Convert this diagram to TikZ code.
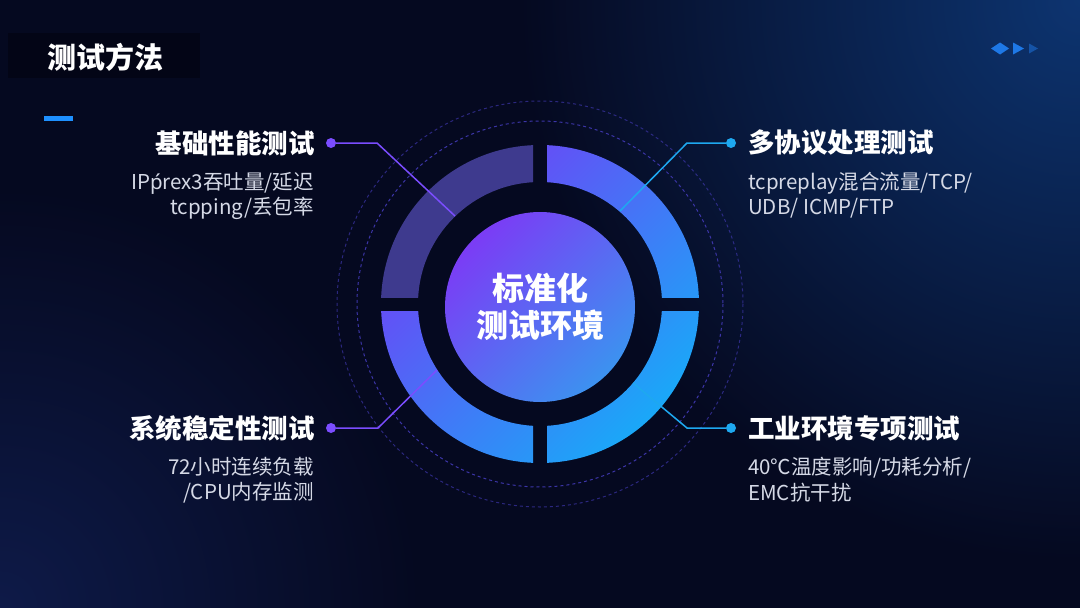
\documentclass[tikz,border=0pt]{standalone}
\usepackage{fontspec}
\setmainfont{Noto Sans CJK SC}
\newfontfamily\latinx{Noto Sans}
\usetikzlibrary{positioning}
\definecolor{bgdark}{HTML}{050920}
\definecolor{glowblue}{HTML}{0D3470}
\definecolor{glowdim}{HTML}{0E1A48}
\definecolor{titlebox}{HTML}{030516}
\definecolor{accentblue}{HTML}{1E90FF}
\definecolor{iconblue}{HTML}{1E78E6}
\definecolor{ringpurple}{HTML}{7040F5}
\definecolor{ringblue}{HTML}{1AA8F8}
\definecolor{ringdull}{HTML}{3E3A8E}
\definecolor{corepurple}{HTML}{7B3CF5}
\definecolor{coreblue}{HTML}{3C92F0}
\definecolor{dashpurple}{HTML}{3C35A8}
\definecolor{linkpurple}{HTML}{7B4DFF}
\definecolor{linkblue}{HTML}{1EA8F0}
\definecolor{subgray}{HTML}{D5D9E6}

\begin{document}
\begin{tikzpicture}[x=1pt, y=-1pt,
  head/.style={text=white, inner sep=0pt, font=\bfseries\fontsize{26.5}{30}\selectfont},
  subtext/.style={text=subgray, inner sep=0pt, font=\fontsize{20.5}{25.5}\selectfont},
  dotl/.style={circle, fill=linkpurple, inner sep=0pt, minimum size=10pt},
  dotr/.style={circle, fill=linkblue, inner sep=0pt, minimum size=10pt},
  linkl/.style={draw=linkpurple, line width=1.5pt},
  linkr/.style={draw=linkblue, line width=1.5pt},
  ringfill/.style={even odd rule, top color=ringpurple, bottom color=ringblue, shading angle=45},
  dashring/.style={draw=dashpurple, dashed, line width=1pt}]
  \useasboundingbox (0,0) rectangle (1080,608);

  % background
  \fill[bgdark] (0,0) rectangle (1080,608);
  \begin{scope}
    \clip (0,0) rectangle (1080,608);
    \shade[inner color=glowdim, outer color=bgdark] (0,608) circle (420);
    \shade[inner color=glowblue, outer color=bgdark] (1080,0) circle (560);
  \end{scope}

  % title
  \fill[titlebox] (8,33) rectangle (200,78);
  \node[head, font=\bfseries\fontsize{29}{32}\selectfont] (title) at (105,57) {测试方法};
  \fill[accentblue] (44,116) rectangle (73,121);
  \fill[iconblue] (991,48.5) -- (1000,42.5) -- (1009,48.5) -- (1000,54.5) -- cycle;
  \fill[iconblue] (1013,42.5) -- (1024,48.5) -- (1013,54.5) -- cycle;
  \fill[iconblue, opacity=0.5] (1029,43.5) -- (1038,48.5) -- (1029,53.5) -- cycle;

  % dashed rings
  \draw[dashring] (540,304) circle (183);
  \draw[dashring, opacity=0.7] (540,304) circle (203);

  % ring quadrants
  \begin{scope}
    \clip (300,50) rectangle (533,297);
    \fill[ringdull, even odd rule] (540,304) circle (159) circle (122);
  \end{scope}
  \begin{scope}
    \clip (547,50) rectangle (780,297);
    \shade[ringfill] (540,304) circle (159) circle (122);
  \end{scope}
  \begin{scope}
    \clip (300,311) rectangle (533,560);
    \shade[ringfill] (540,304) circle (159) circle (122);
  \end{scope}
  \begin{scope}
    \clip (547,311) rectangle (780,560);
    \shade[ringfill] (540,304) circle (159) circle (122);
  \end{scope}

  % core
  \node[circle, minimum size=190pt, inner sep=0pt, top color=corepurple, bottom color=coreblue, shading angle=45,
    text=white, align=center, font=\bfseries\fontsize{32}{37}\selectfont] (core) at (540,307) {标准化\\测试环境};

  % labels
  \node[head, anchor=east] (basic) at (315,143) {基础性能测试};
  \node[subtext, anchor=north east, align=right] (basicsub) at (314,172) {IP{\latinx ṕ}rex3吞吐量/延迟\\tcpping/丢包率};
  \node[head, anchor=west] (proto) at (748,143) {多协议处理测试};
  \node[subtext, anchor=north west, align=left] (protosub) at (748,172) {tcpreplay混合流量/TCP/\\UDB/ ICMP/FTP};
  \node[head, anchor=east] (stable) at (315,428) {系统稳定性测试};
  \node[subtext, anchor=north east, align=right] (stablesub) at (314,457) {72小时连续负载\\/CPU内存监测};
  \node[head, anchor=west] (indus) at (748,428) {工业环境专项测试};
  \node[subtext, anchor=north west, align=left] (indussub) at (748,457) {40℃温度影响/功耗分析/\\EMC抗干扰};

  % connectors
  \node[dotl] (dbasic) at (331,143) {};
  \coordinate (kbasic) at (377,143);
  \coordinate (ebasic) at (455,216);
  \draw[linkl] (dbasic) -- (kbasic) -- (ebasic);
  \node[dotr] (dproto) at (731,143) {};
  \coordinate (kproto) at (687,143);
  \coordinate (eproto) at (620,211);
  \draw[linkr] (dproto) -- (kproto) -- (eproto);
  \node[dotl] (dstable) at (331,428) {};
  \coordinate (kstable) at (378,428);
  \coordinate (estable) at (437,370);
  \draw[linkl] (dstable) -- (kstable) -- (estable);
  \node[dotr] (dindus) at (731,428) {};
  \coordinate (kindus) at (687,428);
  \coordinate (eindus) at (633,383);
  \draw[linkr] (dindus) -- (kindus) -- (eindus);
\end{tikzpicture}
\end{document}
